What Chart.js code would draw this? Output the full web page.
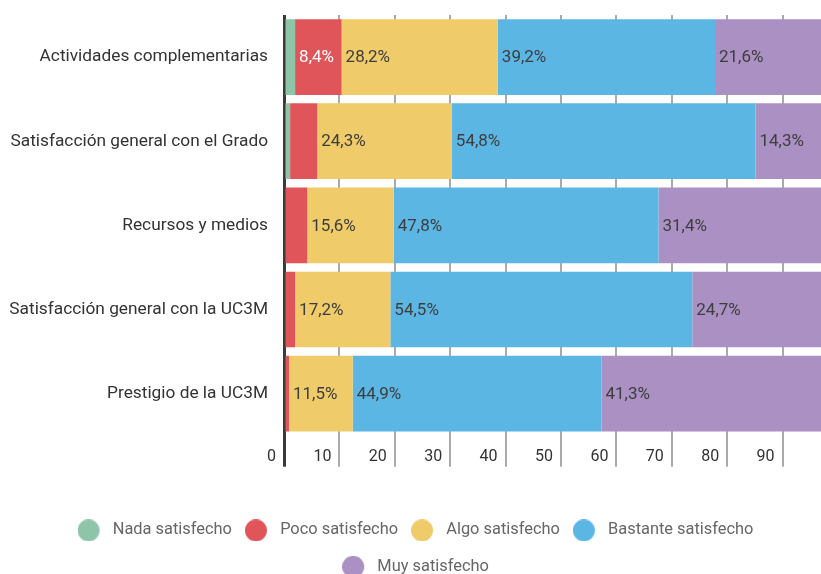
<!DOCTYPE html>
<html>
<head>
<meta charset="utf-8">
<script src="https://cdn.jsdelivr.net/npm/chart.js"></script>
<style>
    html, body { margin: 0; padding: 0; background: #fff; overflow: hidden; }
    #wrap { width: 838px; height: 585px; }
</style>
</head>
<body>
<div id="wrap"><canvas id="grafico" width="838" height="585"></canvas></div>
<script>
// Datos de la encuesta (% de respuestas)
const categorias = [
    'Actividades complementarias',
    'Satisfacción general con el Grado',
    'Recursos y medios',
    'Satisfacción general con la UC3M',
    'Prestigio de la UC3M'
];
const series = ['Nada satisfecho', 'Poco satisfecho', 'Algo satisfecho', 'Bastante satisfecho', 'Muy satisfecho'];
const nada = [2.0, 1.1, 0, 0, 0];
const poco = [8.4, 4.9, 4.2, 2.0, 0.9];
const algo = [28.2, 24.3, 15.6, 17.2, 11.5];
const bastante = [39.2, 54.8, 47.8, 54.5, 44.9];
const muy = [21.6, 14.3, 31.4, 24.7, 41.3];
const ticksX = [0, 10, 20, 30, 40, 50, 60, 70, 80, 90];

const colores = ['#8ec4a8', '#e0555a', '#efcb69', '#5cb6e3', '#ab90c3'];
const coloresTexto = ['#3d3d3d', '#ffffff', '#3d3d3d', '#3d3d3d', '#3d3d3d'];
const valores = [nada, poco, algo, bastante, muy];

Chart.defaults.font.family = 'Roboto';
Chart.defaults.font.size = 16;

// Iconos circulares de la leyenda (con margen a la izquierda)
function iconoLeyenda(color) {
    const c = document.createElement('canvas');
    c.width = 34;
    c.height = 22;
    const g = c.getContext('2d');
    g.fillStyle = color;
    g.beginPath();
    g.arc(11, 11, 11, 0, Math.PI * 2);
    g.fill();
    return c;
}
const iconos = colores.map(iconoLeyenda);

// Etiquetas de porcentaje dentro de cada barra
const etiquetas = {
    id: 'etiquetas',
    afterDatasetsDraw(chart) {
        const ctx = chart.ctx;
        ctx.save();
        ctx.font = '17px Roboto';
        ctx.textAlign = 'left';
        ctx.textBaseline = 'middle';
        chart.data.datasets.forEach((ds, i) => {
            const meta = chart.getDatasetMeta(i);
            meta.data.forEach((bar, j) => {
                const v = ds.data[j];
                if (v < 5) return;
                ctx.fillStyle = coloresTexto[i];
                ctx.fillText(v.toFixed(1).replace('.', ',') + '%', Math.min(bar.base, bar.x) + 4, bar.y + 1);
            });
        });
        ctx.restore();
    }
};

new Chart(document.getElementById('grafico'), {
    type: 'bar',
    data: {
        labels: categorias,
        datasets: series.map((nombre, i) => ({
            label: nombre,
            data: valores[i],
            backgroundColor: colores[i],
            borderWidth: 0,
            barPercentage: 0.9,
            categoryPercentage: 1.0
        }))
    },
    options: {
        indexAxis: 'y',
        responsive: false,
        animation: false,
        devicePixelRatio: 1,
        layout: { padding: { top: 15, left: 0, right: 0, bottom: 0 } },
        scales: {
            x: {
                stacked: true,
                min: 0,
                max: 100,
                afterFit: function(scale) { scale.height = 66.5; },
                border: { display: false },
                grid: {
                    color: c => c.tick && c.tick.value === 0 ? '#3a3a3a' : '#aaaaaa',
                    lineWidth: c => c.tick && c.tick.value === 0 ? 3 : 2,
                    tickLength: 31
                },
                ticks: {
                    stepSize: 10,
                    autoSkip: false,
                    maxRotation: 0,
                    align: 'end',
                    labelOffset: -8,
                    padding: -19,
                    color: '#333',
                    callback: v => ticksX.includes(v) ? String(v) : ''
                }
            },
            y: {
                stacked: true,
                afterFit: function(scale) {
                    scale.width = 284;
                    scale.paddingTop = 0;
                    scale.paddingBottom = 0;
                },
                border: { display: false },
                grid: { display: false, drawTicks: false },
                ticks: { padding: 16, color: '#333', font: { size: 17.3 } }
            }
        },
        plugins: {
            legend: {
                position: 'bottom',
                labels: {
                    usePointStyle: true,
                    pointStyleWidth: 20,
                    padding: 20,
                    color: '#666',
                    font: { size: 16.4 },
                    generateLabels: function(chart) {
                        const items = Chart.defaults.plugins.legend.labels.generateLabels(chart);
                        items.forEach((it, i) => { it.pointStyle = iconos[i]; });
                        return items;
                    }
                }
            },
            tooltip: { enabled: false }
        }
    },
    plugins: [etiquetas]
});
</script>
</body>
</html>
